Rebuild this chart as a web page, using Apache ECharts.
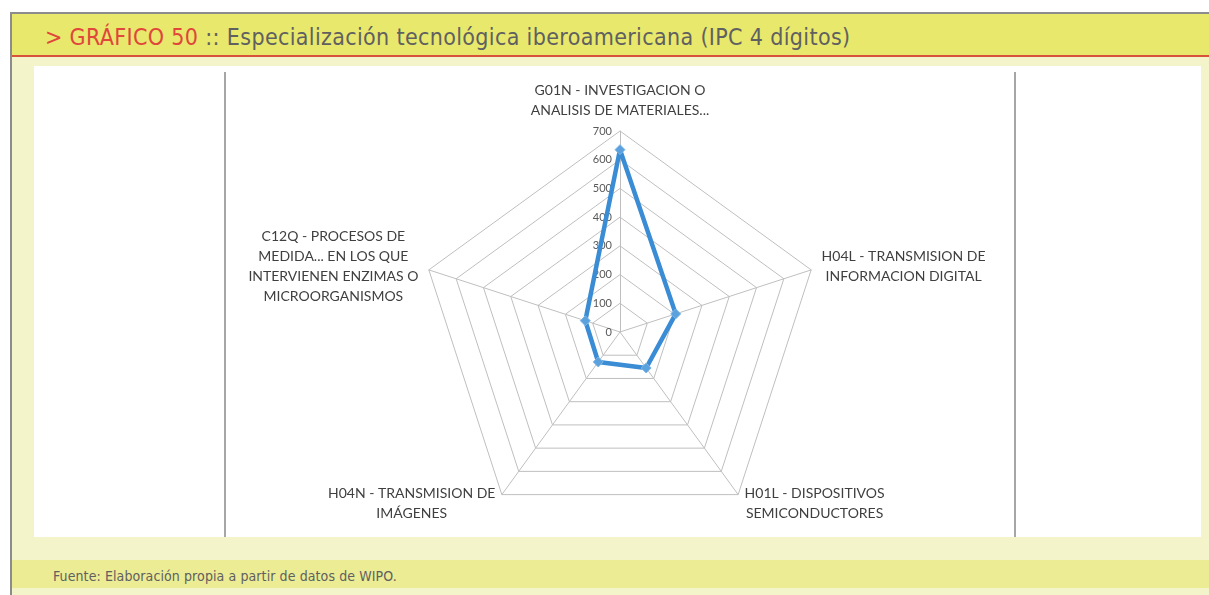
<!DOCTYPE html>
<html>
<head>
<meta charset="utf-8">
<script src="https://cdn.jsdelivr.net/npm/echarts@6/dist/echarts.min.js"></script>
<style>
  html, body { margin:0; padding:0; width:1209px; height:595px; overflow:hidden; background:#ffffff; }
  #frame { position:absolute; left:10px; top:12px; width:1210px; height:600px; background:#f3f4c9; border-left:2px solid #8c8c8c; border-top:2px solid #8c8c8c; box-sizing:border-box; }
  #titlebar { position:absolute; left:12px; top:14px; width:1200px; height:41px; background:#e8e86c; border-bottom:2px solid #d9533a; }
  #title { position:absolute; left:45px; top:24px; font-family:'Liberation Sans Narrow','DejaVu Sans Condensed',sans-serif; font-size:23px; color:#606060; white-space:nowrap; letter-spacing:0.35px; }
  #title .red { color:#e0463a; }
  #panel { position:absolute; left:34px; top:66px; width:1167px; height:471px; background:#ffffff; }
  .vline { position:absolute; top:72px; width:2px; height:465px; background:#a6a6a6; }
  #footband { position:absolute; left:12px; top:560px; width:1200px; height:28px; background:#ecec94; }
  #foot { position:absolute; left:53px; top:568px; font-family:'Liberation Sans Narrow','DejaVu Sans Condensed',sans-serif; font-size:14px; color:#606060; white-space:nowrap; letter-spacing:0.1px; }
  #chart { position:absolute; left:34px; top:66px; width:1167px; height:471px; }
</style>
</head>
<body>
<div id="frame"></div>
<div id="titlebar"></div>
<div id="title"><span class="red">&gt; GRÁFICO 50</span> :: Especialización tecnológica iberoamericana (IPC 4 dígitos)</div>
<div id="panel"></div>
<div class="vline" style="left:224px"></div>
<div class="vline" style="left:1014px"></div>
<div id="footband"></div>
<div id="foot">Fuente: Elaboración propia a partir de datos de WIPO.</div>
<div id="chart"></div>
<script>
// Categories listed in ECharts radar order (counter-clockwise from top)
var categories = [
  "G01N - INVESTIGACION O\nANALISIS DE MATERIALES...",
  "C12Q - PROCESOS DE\nMEDIDA... EN LOS QUE\nINTERVIENEN ENZIMAS O\nMICROORGANISMOS",
  "H04N - TRANSMISION DE\nIMÁGENES",
  "H01L - DISPOSITIVOS\nSEMICONDUCTORES",
  "H04L - TRANSMISION DE\nINFORMACION DIGITAL"
];
var values = [635, 127, 129, 155, 204];
var axisMin = 0;
var axisMax = 700;
var axisSplits = 7;

var chart = echarts.init(document.getElementById('chart'), null, { renderer: 'canvas' });

var indicators = categories.map(function (c, i) {
  var ind = { name: c, min: axisMin, max: axisMax };
  if (i === 0) {
    ind.axisLabel = { show: true };
  }
  return ind;
});

var option = {
  animation: false,
  radar: {
    center: [586, 266],
    radius: 201,
    startAngle: 90,
    splitNumber: axisSplits,
    shape: 'polygon',
    nameGap: 11,
    axisName: {
      color: '#3f3f3f',
      fontFamily: 'Lato',
      fontSize: 14,
      lineHeight: 20,
      formatter: function (name) {
        return name.split('\n').map(function (l) { return '{c|' + l + '}'; }).join('\n');
      },
      rich: {
        c: { align: 'center', fontFamily: 'Lato', fontSize: 14, lineHeight: 20, color: '#3f3f3f' }
      }
    },
    axisLine: { lineStyle: { color: '#bfbfbf', width: 1 } },
    splitLine: { lineStyle: { color: '#bfbfbf', width: 1 } },
    splitArea: { show: false },
    axisTick: { show: false },
    axisLabel: {
      show: false,
      color: '#595959',
      fontFamily: 'Lato',
      fontSize: 11,
      margin: 8
    },
    indicator: indicators
  },
  series: [{
    type: 'radar',
    symbol: 'diamond',
    symbolSize: 10,
    lineStyle: { color: '#3a8cd4', width: 4.5 },
    itemStyle: { color: '#5aa1dd', borderColor: '#7db5e6', borderWidth: 1 },
    data: [{ value: values, name: 'Especialización' }]
  }]
};
chart.setOption(option);
</script>
</body>
</html>
